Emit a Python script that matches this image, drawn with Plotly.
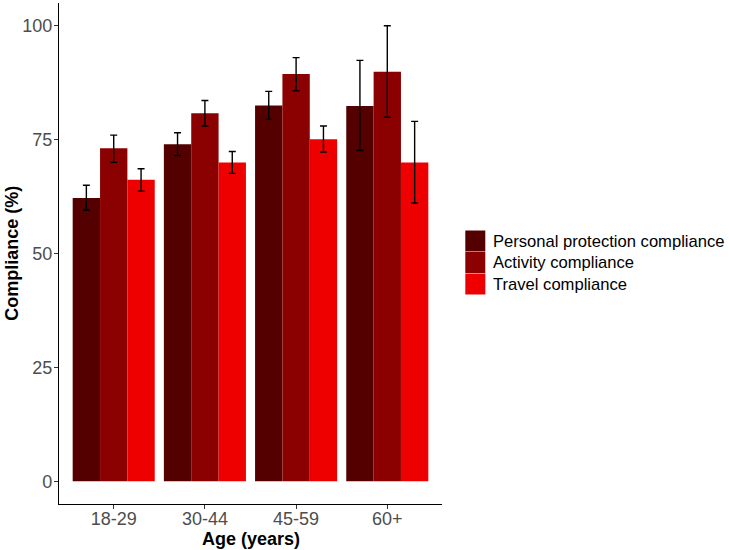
import plotly.graph_objects as go

ages = ["18-29", "30-44", "45-59", "60+"]
series_names = ["Personal protection compliance", "Activity compliance", "Travel compliance"]
personal = [62.2, 74.0, 82.5, 82.4]
personal_hi = [65.0, 76.5, 85.6, 92.4]
personal_lo = [59.5, 71.5, 79.5, 72.6]
activity = [73.1, 80.8, 89.4, 89.9]
activity_hi = [76.0, 83.6, 93.0, 100.0]
activity_lo = [70.0, 78.0, 85.7, 79.9]
travel = [66.2, 70.0, 75.1, 70.0]
travel_hi = [68.6, 72.4, 78.0, 79.0]
travel_lo = [63.7, 67.6, 72.3, 61.1]
colors = ["#550000", "#8B0000", "#EE0000"]

values = [personal, activity, travel]
his = [personal_hi, activity_hi, travel_hi]
los = [personal_lo, activity_lo, travel_lo]

fig = go.Figure()
for name, v, hi, lo, c in zip(series_names, values, his, los, colors):
    fig.add_trace(go.Bar(
        x=ages, y=v, name=name, marker=dict(color=c, line=dict(width=0)),
        error_y=dict(type="data", symmetric=False,
                     array=[h - y for h, y in zip(hi, v)],
                     arrayminus=[y - l for y, l in zip(v, lo)],
                     color="black", thickness=1.4, width=3.5),
        showlegend=False,
    ))

L, R, T, B = 58.7, 287.3, 3, 46
W, H = 729, 550
pw = W - L - R
ph = H - T - B

def px_x(x):
    return (x - L) / pw

def px_y(y):
    return 1 - (y - T) / ph

fig.update_layout(
    width=W, height=H,
    margin=dict(l=L, r=R, t=T, b=B, autoexpand=False),
    barmode="group", bargap=0.1, bargroupgap=0,
    plot_bgcolor="white", paper_bgcolor="white",
    font=dict(family="Liberation Sans, Arial", color="#4D4D4D", size=18),
    xaxis=dict(range=[-0.6, 3.6], showline=True, linecolor="black", linewidth=1.2,
               ticks="outside", ticklen=4, tickcolor="#333333", showgrid=False,
               tickfont=dict(size=18, color="#4D4D4D"), ticklabelstandoff=-6,
               automargin=False, zeroline=False),
    yaxis=dict(range=[-5, 105], showline=True, linecolor="black", linewidth=1.2,
               ticks="outside", ticklen=4, tickcolor="#333333", showgrid=False,
               tickvals=[0, 25, 50, 75, 100], ticklabelstandoff=-2,
               tickfont=dict(size=18, color="#4D4D4D"),
               automargin=False, zeroline=False),
)

# axis titles
fig.add_annotation(xref="paper", yref="paper", x=0.5, y=px_y(539),
                   text="<b>Age (years)</b>", showarrow=False,
                   xanchor="center", yanchor="middle",
                   font=dict(size=18, color="black"))
fig.add_annotation(xref="paper", yref="paper", x=px_x(11), y=0.5,
                   text="<b>Compliance (%)</b>", showarrow=False, textangle=-90,
                   xanchor="center", yanchor="middle",
                   font=dict(size=18, color="black"))

# manual legend
key_x0 = 465
key_w = 20
row_h = 21.5
top = 230.5
for i, (name, c) in enumerate(zip(series_names, colors)):
    y0 = top + i * row_h
    fig.add_shape(type="rect", xref="paper", yref="paper",
                  x0=px_x(key_x0), x1=px_x(key_x0 + key_w),
                  y0=px_y(y0 + row_h - 0.5), y1=px_y(y0),
                  fillcolor=c, line=dict(width=0))
    fig.add_annotation(xref="paper", yref="paper",
                       x=px_x(491), y=px_y(y0 + row_h / 2),
                       text=name, showarrow=False, xanchor="left", yanchor="middle",
                       font=dict(size=16.6, color="black"))

fig.write_html("out.html", config={"displayModeBar": False},
               post_script="document.body.style.margin='0';")
